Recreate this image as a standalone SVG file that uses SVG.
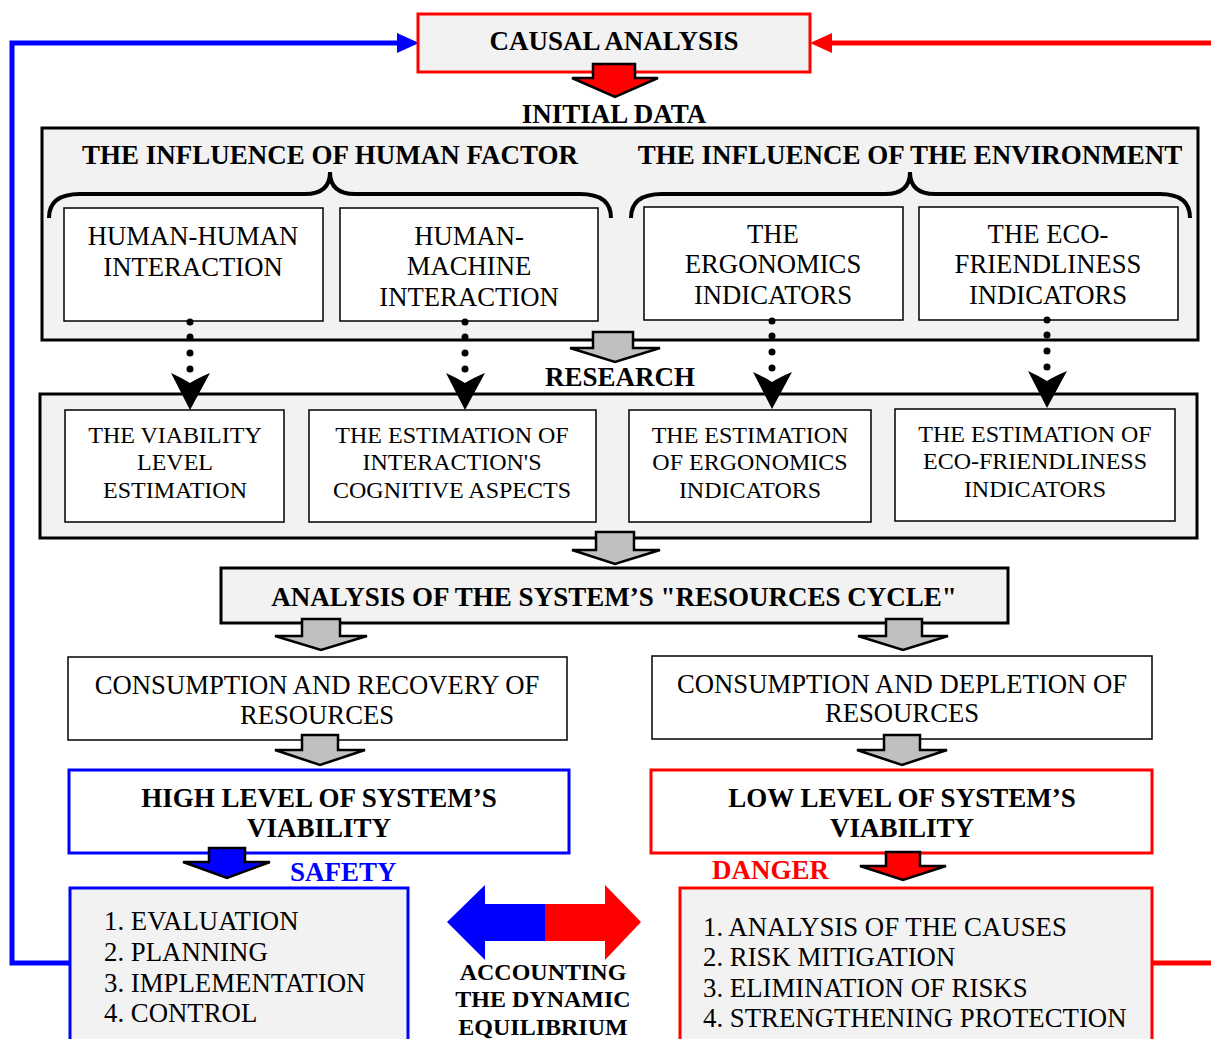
<svg xmlns="http://www.w3.org/2000/svg" width="1211" height="1039" viewBox="0 0 1211 1039">
<defs>
<style>
text{font-family:"Liberation Serif","Times New Roman",serif;fill:#000;text-anchor:middle}
.b{font-weight:bold;font-size:27px}
.r{font-size:26.7px}
.r2{font-size:24px}
.l{text-anchor:start;font-size:26.8px}
.grey{fill:#f2f2f2;stroke:#000;stroke-width:3}
.wb{fill:#fff;stroke:#000;stroke-width:1.5}
.ba{stroke:#000;stroke-width:2.5;stroke-linejoin:miter}
.g{fill:#c0c0c0}
.dot{fill:#000}
.acc{font-weight:bold;font-size:24px}
</style>
<path id="dotArrow" d="M0,0 L-19,-37 Q-8,-32 0,-27 Q8,-32 20,-37 Z"/>
</defs>

<g id="connectors">
<polyline points="70,963 12,963 12,43 400,43" fill="none" stroke="#0000ff" stroke-width="5"/>
<path d="M397,33 L419,43 L397,53 Z" fill="#0000ff"/>
<line x1="1211" y1="43" x2="828" y2="43" stroke="#ff0000" stroke-width="5"/>
<path d="M832,33 L810,43 L832,53 Z" fill="#ff0000"/>
<line x1="1152" y1="963" x2="1211" y2="963" stroke="#ff0000" stroke-width="5"/>
</g>

<g id="causal">
<rect x="418" y="14" width="392" height="58" fill="#f2f2f2" stroke="#ff0000" stroke-width="3"/>
<text class="b" x="614" y="50">CAUSAL ANALYSIS</text>
</g>
<path class="ba" fill="#ff0000" d="M593,64 H635 V78 H658 L615,97 L572,78 H593 Z"/>
<text class="b" x="614" y="123">INITIAL DATA</text>

<g id="initial-data">
<rect class="grey" x="42" y="128" width="1156" height="212"/>
<text class="b" x="330" y="164">THE INFLUENCE OF HUMAN FACTOR</text>
<text class="b" x="910" y="164">THE INFLUENCE OF THE ENVIRONMENT</text>
<path d="M49,218 Q49,194 80,194 H305 Q330,194 330,172 Q330,194 355,194 H580 Q611,194 611,218" fill="none" stroke="#000" stroke-width="4"/>
<path d="M631,218 Q631,194 662,194 H885 Q910,194 910,172 Q910,194 935,194 H1160 Q1190,194 1190,218" fill="none" stroke="#000" stroke-width="4"/>
</g>
<g id="hh">
<rect class="wb" x="64" y="208" width="259" height="113"/>
<text class="r" x="193" y="245">HUMAN-HUMAN</text>
<text class="r" x="193" y="276">INTERACTION</text>
</g>
<g id="hm">
<rect class="wb" x="340" y="208" width="258" height="113"/>
<text class="r" x="469" y="245">HUMAN-</text>
<text class="r" x="469" y="275">MACHINE</text>
<text class="r" x="469" y="306">INTERACTION</text>
</g>
<g id="ergo">
<rect class="wb" x="644" y="207" width="259" height="113"/>
<text class="r" x="773" y="243">THE</text>
<text class="r" x="773" y="273">ERGONOMICS</text>
<text class="r" x="773" y="304">INDICATORS</text>
</g>
<g id="eco">
<rect class="wb" x="919" y="207" width="259" height="113"/>
<text class="r" x="1048" y="243">THE ECO-</text>
<text class="r" x="1048" y="273">FRIENDLINESS</text>
<text class="r" x="1048" y="304">INDICATORS</text>
</g>

<path class="ba g" d="M593,332 H633 V348 H660 L615,362 L570,348 H593 Z"/>
<text class="b" x="620" y="386">RESEARCH</text>

<g id="research">
<rect class="grey" x="40" y="394" width="1157" height="144"/>
</g>
<g id="viab">
<rect class="wb" x="65" y="410" width="219" height="112"/>
<text class="r2" x="175" y="443">THE VIABILITY</text>
<text class="r2" x="175" y="470">LEVEL</text>
<text class="r2" x="175" y="498">ESTIMATION</text>
</g>
<g id="cog">
<rect class="wb" x="309" y="410" width="287" height="112"/>
<text class="r2" x="452" y="443">THE ESTIMATION OF</text>
<text class="r2" x="452" y="470">INTERACTION'S</text>
<text class="r2" x="452" y="498">COGNITIVE ASPECTS</text>
</g>
<g id="est-ergo">
<rect class="wb" x="629" y="410" width="242" height="112"/>
<text class="r2" x="750" y="443">THE ESTIMATION</text>
<text class="r2" x="750" y="470">OF ERGONOMICS</text>
<text class="r2" x="750" y="498">INDICATORS</text>
</g>
<g id="est-eco">
<rect class="wb" x="895" y="409" width="280" height="112"/>
<text class="r2" x="1035" y="442">THE ESTIMATION OF</text>
<text class="r2" x="1035" y="469">ECO-FRIENDLINESS</text>
<text class="r2" x="1035" y="497">INDICATORS</text>
</g>

<g id="dotted">
<circle class="dot" cx="190" cy="322" r="3.5"/><circle class="dot" cx="190" cy="337" r="3.5"/><circle class="dot" cx="190" cy="353" r="3.5"/><circle class="dot" cx="190" cy="369" r="3.5"/>
<use href="#dotArrow" x="190" y="410"/>
<circle class="dot" cx="465" cy="322" r="3.5"/><circle class="dot" cx="465" cy="337" r="3.5"/><circle class="dot" cx="465" cy="353" r="3.5"/><circle class="dot" cx="465" cy="369" r="3.5"/>
<use href="#dotArrow" x="465" y="410"/>
<circle class="dot" cx="772" cy="321" r="3.5"/><circle class="dot" cx="772" cy="336" r="3.5"/><circle class="dot" cx="772" cy="352" r="3.5"/><circle class="dot" cx="772" cy="368" r="3.5"/>
<use href="#dotArrow" x="772" y="409"/>
<circle class="dot" cx="1047" cy="320" r="3.5"/><circle class="dot" cx="1047" cy="335" r="3.5"/><circle class="dot" cx="1047" cy="351" r="3.5"/><circle class="dot" cx="1047" cy="367" r="3.5"/>
<use href="#dotArrow" x="1047" y="408"/>
</g>

<path class="ba g" d="M596,532 H634 V550 H660 L615,564 L572,550 H596 Z"/>

<g id="analysis">
<rect class="grey" x="221" y="568" width="787" height="55"/>
<text class="b" x="614" y="606">ANALYSIS OF THE SYSTEM’S "RESOURCES CYCLE"</text>
</g>

<path class="ba g" d="M302,619 H340 V636 H367 L321,650 L275,636 H302 Z"/>
<path class="ba g" d="M886,619 H922 V636 H948 L903,650 L858,636 H886 Z"/>

<g id="recovery">
<rect class="wb" x="68" y="657" width="499" height="83"/>
<text class="r" x="317" y="694">CONSUMPTION AND RECOVERY OF</text>
<text class="r" x="317" y="724">RESOURCES</text>
</g>
<g id="depletion">
<rect class="wb" x="652" y="656" width="500" height="83"/>
<text class="r" x="902" y="693">CONSUMPTION AND DEPLETION OF</text>
<text class="r" x="902" y="722">RESOURCES</text>
</g>

<path class="ba g" d="M302,735 H338 V750 H365 L320,765 L275,750 H302 Z"/>
<path class="ba g" d="M884,735 H920 V750 H947 L902,765 L857,750 H884 Z"/>

<g id="high">
<rect x="69" y="770" width="500" height="83" fill="#fff" stroke="#0000ff" stroke-width="3"/>
<text class="b" x="319" y="807">HIGH LEVEL OF SYSTEM’S</text>
<text class="b" x="319" y="837">VIABILITY</text>
</g>
<g id="low">
<rect x="651" y="770" width="501" height="83" fill="#fff" stroke="#ff0000" stroke-width="3"/>
<text class="b" x="902" y="807">LOW LEVEL OF SYSTEM’S</text>
<text class="b" x="902" y="837">VIABILITY</text>
</g>

<path class="ba" fill="#0000ff" d="M209,848 H245 V862 H270 L227,878 L183,862 H209 Z"/>
<text class="b" x="290" y="881" style="text-anchor:start;fill:#0000ff">SAFETY</text>
<text class="b" x="712" y="879" style="text-anchor:start;fill:#ff0000">DANGER</text>
<path class="ba" fill="#ff0000" d="M886,852 H920 V866 H946 L903,880 L860,866 H886 Z"/>

<g id="safety">
<rect x="70" y="888" width="338" height="160" fill="#f2f2f2" stroke="#0000ff" stroke-width="3"/>
<text class="l" x="104" y="930">1. EVALUATION</text>
<text class="l" x="104" y="961">2. PLANNING</text>
<text class="l" x="104" y="992">3. IMPLEMENTATION</text>
<text class="l" x="104" y="1022">4. CONTROL</text>
</g>
<g id="danger">
<rect x="680" y="888" width="472" height="160" fill="#f2f2f2" stroke="#ff0000" stroke-width="3"/>
<text class="l" x="703" y="936">1. ANALYSIS OF THE CAUSES</text>
<text class="l" x="703" y="966">2. RISK MITIGATION</text>
<text class="l" x="703" y="997">3. ELIMINATION OF RISKS</text>
<text class="l" x="703" y="1027">4. STRENGTHENING PROTECTION</text>
</g>

<g id="equilibrium">
<path fill="#0000ff" d="M545,904 H485 V885 L447,922 L485,960 V941 H545 Z"/>
<path fill="#ff0000" d="M545,904 H605 V885 L641,922 L605,960 V941 H545 Z"/>
<text class="acc" x="543" y="980">ACCOUNTING</text>
<text class="acc" x="543" y="1007">THE DYNAMIC</text>
<text class="acc" x="543" y="1035">EQUILIBRIUM</text>
</g>
</svg>
